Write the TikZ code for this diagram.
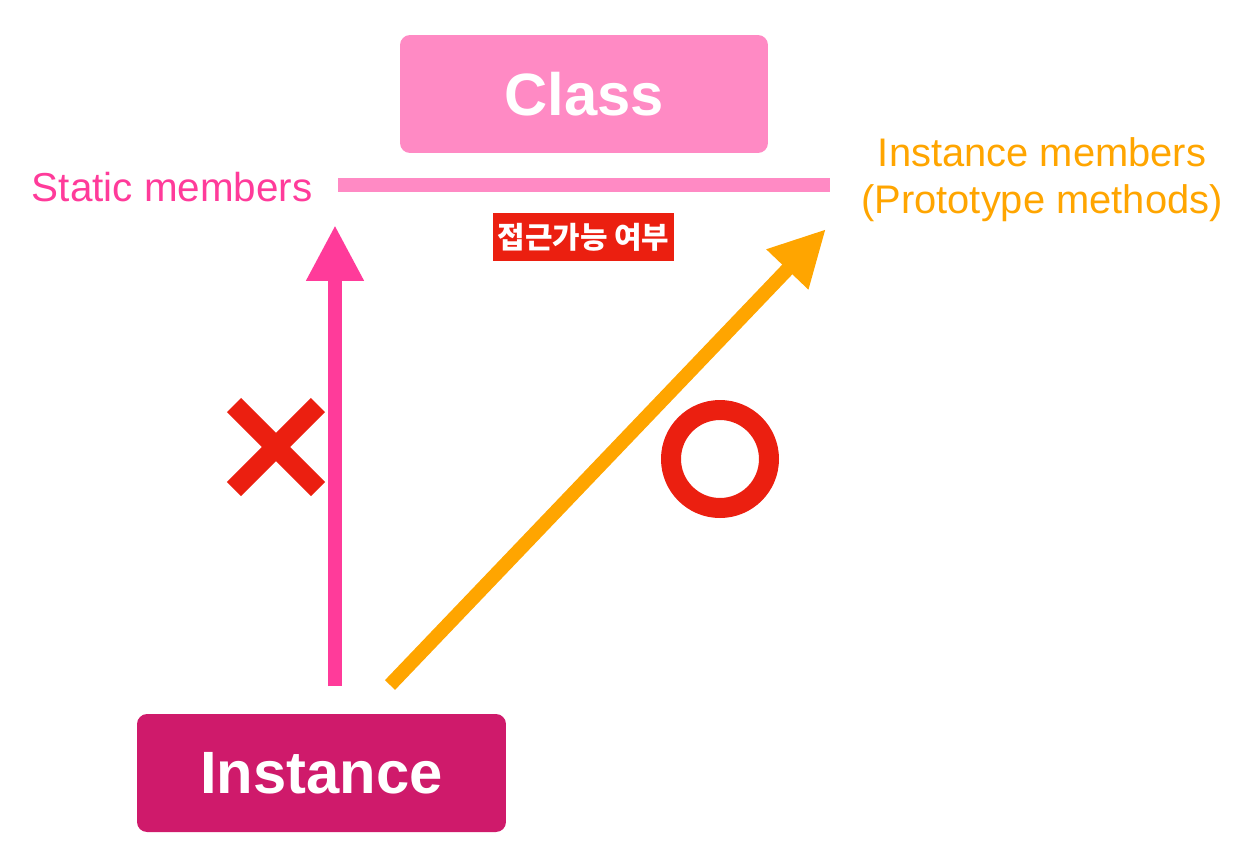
\documentclass[tikz,border=0pt]{standalone}
\usepackage{fontspec}
\setmainfont{Liberation Sans}
\newfontfamily\krfont{Noto Sans CJK KR}
\usetikzlibrary{arrows.meta}
\definecolor{classpink}{HTML}{FF8AC4}
\definecolor{staticpink}{HTML}{FF3B9A}
\definecolor{protoorange}{HTML}{FFA500}
\definecolor{markred}{HTML}{EB1F10}
\definecolor{instmagenta}{HTML}{CF1A6B}
\tikzset{
  titlebox/.style={rounded corners=0.2cm, minimum width=7.36cm, minimum height=2.36cm,
    inner sep=0pt, text=white, font=\fontsize{34}{40}\selectfont\bfseries},
  memberlabel/.style={inner sep=0pt, font=\fontsize{22.7}{26.6}\selectfont},
  accessarrow/.style={line width=0.28cm, -{Triangle[length=1.12cm,width=1.08cm]}},
  markline/.style={line width=0.4cm, draw=markred}
}
\begin{document}
\begin{tikzpicture}[x=0.02cm,y=-0.02cm]
  \useasboundingbox (0,0) rectangle (1245,860);
  \node[titlebox, fill=classpink] (class) at (584,94) {Class};
  \node[titlebox, fill=instmagenta, minimum width=7.38cm] (instance) at (321.5,773) {Instance};
  \coordinate (lineL) at (338,185);
  \coordinate (lineR) at (830,185);
  \draw[classpink, line width=0.28cm] (lineL) -- (lineR);
  \node[memberlabel, text=staticpink, anchor=east, font=\fontsize{23}{26.6}\selectfont] (static) at (313,187) {Static members};
  \node[memberlabel, text=protoorange, align=center] (proto) at (1042,180) {Instance members\\(Prototype methods)};
  \node[fill=markred, text=white, inner sep=0pt, minimum width=3.62cm, minimum height=0.96cm,
    font=\krfont\bfseries\fontsize{17}{20}\selectfont] (access) at (583.5,237) {접근가능 여부};
  \coordinate (sbase) at (335,686);
  \coordinate (stip) at (335,225);
  \coordinate (pbase) at (390,685);
  \coordinate (ptip) at (826,229);
  \draw[accessarrow, staticpink] (sbase) -- (stip);
  \draw[accessarrow, protoorange] (pbase) -- (ptip);
  \draw[markline] (234,405) -- (318,489);
  \draw[markline] (318,405) -- (234,489);
  \draw[markline] (720,459) circle[radius=0.98cm];
\end{tikzpicture}
\end{document}
